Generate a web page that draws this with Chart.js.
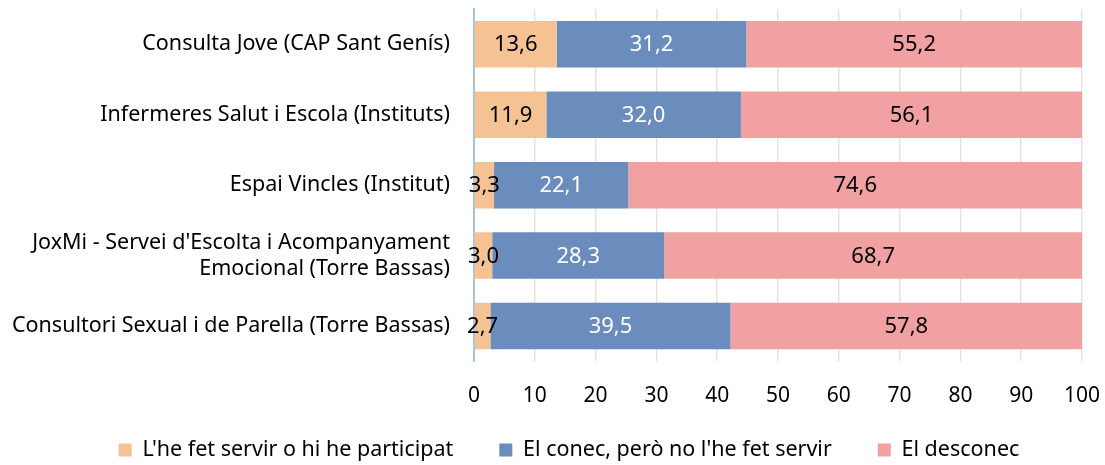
<!DOCTYPE html>
<html>
<head>
<meta charset="utf-8">
<script src="https://cdn.jsdelivr.net/npm/chart.js@4"></script>
<style>
  html, body { margin: 0; padding: 0; background: #fff; }
  #wrap { width: 1105px; height: 465px; }
</style>
</head>
<body>
<div id="wrap"><canvas id="chart" width="1105" height="465"></canvas></div>
<script>
const categories = [
    'Consulta Jove (CAP Sant Genís)',
    'Infermeres Salut i Escola (Instituts)',
    'Espai Vincles (Institut)',
    ["JoxMi - Servei d'Escolta i Acompanyament", 'Emocional (Torre Bassas)'],
    'Consultori Sexual i de Parella (Torre Bassas)'
];
const seriesNames = ["L'he fet servir o hi he participat", "El conec, però no l'he fet servir", 'El desconec'];
const usedValues = [13.6, 11.9, 3.3, 3.0, 2.7];
const knownValues = [31.2, 32.0, 22.1, 28.3, 39.5];
const unknownValues = [55.2, 56.1, 74.6, 68.7, 57.8];
const xTicks = [0, 10, 20, 30, 40, 50, 60, 70, 80, 90, 100];

const FONT = 'Noto Sans';
const LEGEND_PAD = 46;

// etiquetes de valor dins de cada segment
const valueLabels = {
    id: 'valueLabels',
    afterDatasetsDraw(chart) {
        const ctx = chart.ctx;
        ctx.save();
        ctx.font = '22px "' + FONT + '"';
        ctx.textAlign = 'center';
        ctx.textBaseline = 'middle';
        chart.data.datasets.forEach((ds, i) => {
            const meta = chart.getDatasetMeta(i);
            meta.data.forEach((bar, j) => {
                const v = ds.data[j];
                const cx = (bar.x + bar.base) / 2;
                ctx.fillStyle = ds.labelColor;
                ctx.fillText(v.toFixed(1).replace('.', ','), cx, bar.y + 1);
            });
        });
        ctx.restore();
    }
};

// la llegenda una mica més amunt (el padding també separa els elements)
const legendShift = {
    id: 'legendShift',
    afterLayout(chart) {
        const lg = chart.legend;
        if (!lg || !lg.legendHitBoxes || !lg.legendHitBoxes.length) return;
        const h = lg.legendHitBoxes[0].height;
        const dy = (450 - LEGEND_PAD - h / 2) - lg.top;
        lg.top += dy;
        lg.bottom += dy;
        lg.left += 28;
        lg.right += 28;
    }
};

new Chart(document.getElementById('chart'), {
    type: 'bar',
    data: {
        labels: categories,
        datasets: [
            { label: seriesNames[0], data: usedValues, backgroundColor: '#f5c393', labelColor: '#000' },
            { label: seriesNames[1], data: knownValues, backgroundColor: '#6a8dbd', labelColor: '#fff' },
            { label: seriesNames[2], data: unknownValues, backgroundColor: '#f1a1a1', labelColor: '#000' }
        ]
    },
    options: {
        indexAxis: 'y',
        responsive: false,
        animation: false,
        layout: { padding: { top: 9, right: 23, bottom: -43, left: 0 } },
        datasets: { bar: { barPercentage: 0.66, categoryPercentage: 1 } },
        scales: {
            x: {
                stacked: true,
                min: 0,
                max: 100,
                afterBuildTicks: axis => { axis.ticks = xTicks.map(v => ({ value: v })); },
                afterFit: axis => { axis.paddingLeft = 0; axis.paddingRight = 0; },
                grid: { color: '#e4e4e4', lineWidth: 1.5, drawTicks: false },
                border: { display: false },
                ticks: { color: '#000', font: { family: FONT, size: 21 }, padding: 22 }
            },
            y: {
                stacked: true,
                afterFit: axis => { axis.width = 474; axis.paddingTop = 0; axis.paddingBottom = 0; },
                grid: { display: false, drawTicks: false },
                border: { display: true, color: '#a7c3e6', width: 2 },
                ticks: { color: '#000', font: { family: FONT, size: 21.5 }, padding: 24 }
            }
        },
        plugins: {
            legend: {
                position: 'bottom',
                labels: {
                    color: '#000',
                    font: { family: FONT, size: 21.5 },
                    boxWidth: 13,
                    boxHeight: 13,
                    padding: LEGEND_PAD
                }
            },
            tooltip: { enabled: false }
        }
    },
    plugins: [valueLabels, legendShift]
});
</script>
</body>
</html>
